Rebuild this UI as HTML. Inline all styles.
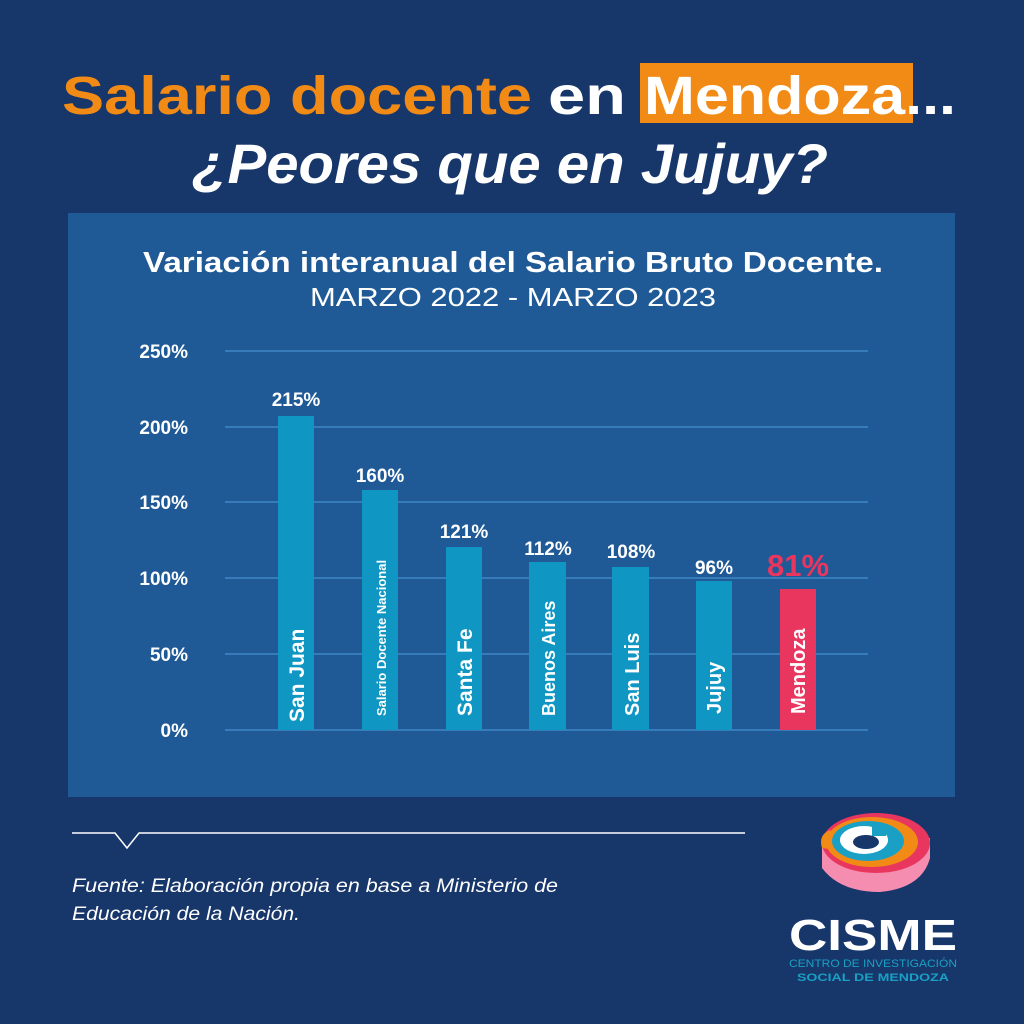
<!DOCTYPE html>
<html><head><meta charset="utf-8"><style>body{margin:0;background:#17366a}svg{display:block}</style></head><body>
<svg width="1024" height="1024" viewBox="0 0 1024 1024" xmlns="http://www.w3.org/2000/svg" font-family="Liberation Sans, sans-serif">
<rect width="1024" height="1024" fill="#17366a"/>
<rect x="640" y="63" width="273" height="60" fill="#f28a16"/>
<text y="114" font-size="54" font-weight="bold" fill="#f28a16" x="62" textLength="470" lengthAdjust="spacingAndGlyphs">Salario docente</text>
<text y="114" font-size="54" font-weight="bold" fill="#fff" x="548" textLength="78" lengthAdjust="spacingAndGlyphs">en</text>
<text y="114" font-size="54" font-weight="bold" fill="#fff" x="644" textLength="312" lengthAdjust="spacingAndGlyphs">Mendoza...</text>
<text y="183" font-size="56" font-weight="bold" font-style="italic" fill="#fff" x="192" textLength="636" lengthAdjust="spacingAndGlyphs">¿Peores que en Jujuy?</text>
<rect x="68" y="213" width="887" height="584" fill="#1f5a97"/>
<text x="143" y="272" font-size="29" font-weight="bold" fill="#fff" textLength="740" lengthAdjust="spacingAndGlyphs">Variación interanual del Salario Bruto Docente.</text>
<text x="310" y="306" font-size="26" fill="#fff" textLength="406" lengthAdjust="spacingAndGlyphs">MARZO 2022 - MARZO 2023</text>
<g stroke="#3f86c6" stroke-width="1.5">
<line x1="225" x2="868" y1="351" y2="351"/><line x1="225" x2="868" y1="427" y2="427"/><line x1="225" x2="868" y1="502" y2="502"/><line x1="225" x2="868" y1="578" y2="578"/><line x1="225" x2="868" y1="654" y2="654"/><line x1="225" x2="868" y1="730" y2="730"/>
</g>
<g font-size="19" font-weight="bold" fill="#fff" text-anchor="end">
<text x="188" y="358">250%</text><text x="188" y="434">200%</text><text x="188" y="509">150%</text><text x="188" y="585">100%</text><text x="188" y="661">50%</text><text x="188" y="737">0%</text>
</g>
<g fill="#0f96c2">
<rect x="278" y="416" width="36" height="314"/><rect x="362" y="490" width="36" height="240"/><rect x="446" y="547" width="36" height="183"/><rect x="529" y="562" width="37" height="168"/><rect x="612" y="567" width="37" height="163"/><rect x="696" y="581" width="36" height="149"/>
</g>
<rect x="780" y="589" width="36" height="141" fill="#e8365f"/>
<g font-size="19" font-weight="bold" fill="#fff" text-anchor="middle">
<text x="296" y="406">215%</text><text x="380" y="482">160%</text><text x="464" y="538">121%</text><text x="548" y="555">112%</text><text x="631" y="558">108%</text><text x="714" y="574">96%</text>
</g>
<text x="798" y="576" font-size="31" font-weight="bold" fill="#e8365f" text-anchor="middle">81%</text>
<g font-weight="bold" fill="#fff">
<text transform="translate(304,722) rotate(-90)" font-size="21">San Juan</text>
<text transform="translate(386,716) rotate(-90)" font-size="13">Salario Docente Nacional</text>
<text transform="translate(472,716) rotate(-90)" font-size="21">Santa Fe</text>
<text transform="translate(555,716) rotate(-90)" font-size="18">Buenos Aires</text>
<text transform="translate(639,716) rotate(-90)" font-size="20">San Luis</text>
<text transform="translate(721,714) rotate(-90)" font-size="20">Jujuy</text>
<text transform="translate(805,714) rotate(-90)" font-size="20">Mendoza</text>
</g>
<polyline points="72,833 115,833 127,848 139,833 745,833" fill="none" stroke="#fff" stroke-width="1.5"/>
<text x="72" y="892" font-size="19" font-style="italic" fill="#fff" textLength="486" lengthAdjust="spacingAndGlyphs">Fuente: Elaboración propia en base a Ministerio de</text>
<text x="72" y="920" font-size="19" font-style="italic" fill="#fff" textLength="228" lengthAdjust="spacingAndGlyphs">Educación de la Nación.</text>
<g>
<path d="M822 848 L822 868 Q840 892 880 892 Q922 888 930 858 L930 838 Z" fill="#f58db0"/>
<ellipse cx="876" cy="843" rx="54" ry="30" fill="#e8365f"/>
<path d="M822 848 Q818 835 830 830 L836 850 Z" fill="#f28a16"/>
<ellipse cx="872" cy="842" rx="46" ry="25" fill="#f28a16"/>
<ellipse cx="868" cy="841" rx="36" ry="20" fill="#19a0c4"/>
<ellipse cx="864" cy="840" rx="24" ry="14" fill="#fff"/>
<ellipse cx="866" cy="842" rx="13" ry="7" fill="#17366a"/>
<rect x="872" y="826" width="14" height="10" fill="#19a0c4"/>
</g>
<text x="873" y="950" font-size="44" font-weight="bold" fill="#fff" text-anchor="middle" textLength="168" lengthAdjust="spacingAndGlyphs">CISME</text>
<text x="873" y="967" font-size="11" fill="#19a0c4" text-anchor="middle" textLength="168" lengthAdjust="spacingAndGlyphs">CENTRO DE INVESTIGACIÓN</text>
<text x="873" y="981" font-size="11" font-weight="bold" fill="#19a0c4" text-anchor="middle" textLength="152" lengthAdjust="spacingAndGlyphs">SOCIAL DE MENDOZA</text>
</svg>
</body></html>
